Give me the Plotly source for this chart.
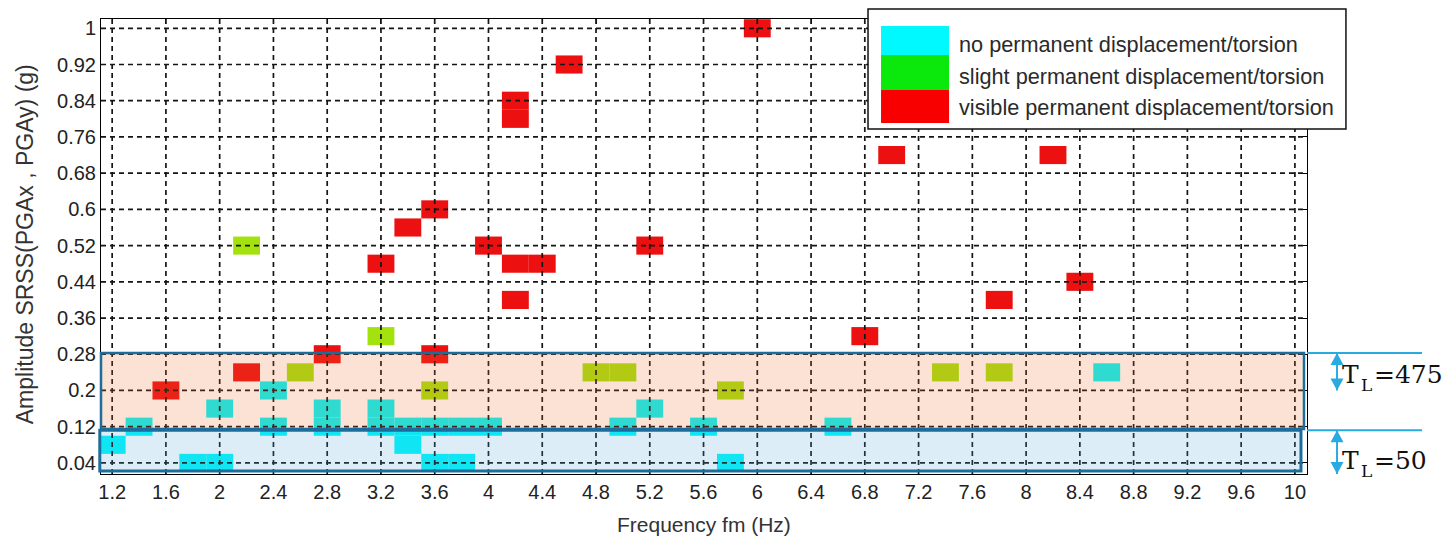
import plotly.graph_objects as go

# Size of one test cell: frequency step (Hz) and amplitude step (g)
CELL_F = 0.2
CELL_A = 0.04

# Test results: frequency fm (Hz) and amplitude SRSS(PGAx, PGAy) (g)
none_f = [1.2, 1.4, 1.8, 2.0, 2.0, 2.4, 2.4, 2.8, 2.8, 3.2, 3.2, 3.4, 3.4,
          3.6, 3.6, 3.8, 3.8, 4.0, 5.0, 5.2, 5.6, 5.8, 6.6, 8.6]
none_a = [0.08, 0.12, 0.04, 0.04, 0.16, 0.20, 0.12, 0.16, 0.12, 0.16, 0.12, 0.12, 0.08,
          0.12, 0.04, 0.12, 0.04, 0.12, 0.12, 0.16, 0.12, 0.04, 0.12, 0.24]

slight_f = [2.2, 2.6, 3.2, 3.6, 4.8, 5.0, 5.8, 7.4, 7.8]
slight_a = [0.52, 0.24, 0.32, 0.20, 0.24, 0.24, 0.20, 0.24, 0.24]

visible_f = [1.6, 2.2, 2.8, 3.2, 3.4, 3.6, 3.6, 4.0, 4.2, 4.2, 4.2, 4.2, 4.4,
             4.6, 5.2, 6.0, 6.8, 7.0, 7.8, 8.2, 8.4]
visible_a = [0.20, 0.24, 0.28, 0.48, 0.56, 0.60, 0.28, 0.52, 0.84, 0.80, 0.48, 0.40, 0.48,
             0.92, 0.52, 1.00, 0.32, 0.72, 0.40, 0.72, 0.44]

# Axis ticks
x_ticks = [1.2, 1.6, 2.0, 2.4, 2.8, 3.2, 3.6, 4.0, 4.4, 4.8, 5.2, 5.6, 6.0,
           6.4, 6.8, 7.2, 7.6, 8.0, 8.4, 8.8, 9.2, 9.6, 10.0]
x_tick_labels = ["1.2", "1.6", "2", "2.4", "2.8", "3.2", "3.6", "4", "4.4", "4.8", "5.2", "5.6", "6",
                 "6.4", "6.8", "7.2", "7.6", "8", "8.4", "8.8", "9.2", "9.6", "10"]
y_ticks = [0.04, 0.12, 0.2, 0.28, 0.36, 0.44, 0.52, 0.6, 0.68, 0.76, 0.84, 0.92, 1.0]
y_tick_labels = ["0.04", "0.12", "0.2", "0.28", "0.36", "0.44", "0.52", "0.6", "0.68",
                 "0.76", "0.84", "0.92", "1"]

# Amplitude bands of the return periods (T_L in years)
band_475 = (0.115, 0.283)
band_50 = (0.022, 0.112)
return_periods = ["475", "50"]

categories = ["no permanent displacement/torsion",
              "slight permanent displacement/torsion",
              "visible permanent displacement/torsion"]
cell_colors = ["#00f5fa", "#a4e20e", "#ec1010"]
legend_colors = ["#00f8ff", "#0be80b", "#f80000"]

X_RANGE = [1.117, 10.09]
Y_RANGE = [0.0155, 1.0205]

fig = go.Figure()

for name, fs, amps, col in zip(categories,
                               [none_f, slight_f, visible_f],
                               [none_a, slight_a, visible_a],
                               cell_colors):
    fig.add_trace(go.Bar(
        x=fs,
        y=[CELL_A] * len(fs),
        base=[a - CELL_A / 2 for a in amps],
        width=CELL_F,
        marker=dict(color=col, line=dict(width=0)),
        name=name,
        showlegend=False,
    ))

shapes = []
grid_style = dict(color="#151515", width=1.7, dash="5px,4px")
for t in x_ticks:
    shapes.append(dict(type="line", xref="x", yref="y domain", x0=t, x1=t, y0=0, y1=1,
                       line=grid_style, layer="above"))
for t in y_ticks:
    shapes.append(dict(type="line", xref="x domain", yref="y", x0=0, x1=1, y0=t, y1=t,
                       line=grid_style, layer="above"))

# translucent band overlays
shapes.append(dict(type="rect", xref="x domain", yref="y", x0=0, x1=0.9975,
                   y0=band_475[0], y1=band_475[1], fillcolor="rgba(235,110,45,0.2)",
                   line=dict(width=0), layer="above"))
shapes.append(dict(type="rect", xref="x domain", yref="y", x0=-0.001, x1=0.995,
                   y0=band_50[0], y1=band_50[1], fillcolor="rgba(80,165,215,0.2)",
                   line=dict(width=0), layer="above"))
shapes.append(dict(type="rect", xref="x domain", yref="y", x0=0, x1=0.9975,
                   y0=band_475[0], y1=band_475[1], fillcolor="rgba(0,0,0,0)",
                   line=dict(color="#1d6d9c", width=2.5), layer="above"))
shapes.append(dict(type="rect", xref="x domain", yref="y", x0=-0.001, x1=0.995,
                   y0=band_50[0], y1=band_50[1], fillcolor="rgba(0,0,0,0)",
                   line=dict(color="#1d6d9c", width=3), layer="above"))

# band limit markers on the right
ARROW_BLUE = "#29abe2"
for lim in (band_475[1], band_50[1]):
    shapes.append(dict(type="line", xref="paper", yref="y", x0=1.0, x1=1.0954, y0=lim, y1=lim,
                       line=dict(color=ARROW_BLUE, width=2), layer="above"))

# double arrows spanning each band (shaft + two pixel-sized heads)
ARROW_X = 1.0249
HEAD_UP = "M 0 0 L -6.5 -12 L 6.5 -12 Z"
HEAD_DOWN = "M 0 0 L -6.5 12 L 6.5 12 Z"
for top, bottom in ((band_475[1], 0.2), (band_50[1], Y_RANGE[0])):
    shapes.append(dict(type="line", xref="paper", yref="y", x0=ARROW_X, x1=ARROW_X,
                       y0=top, y1=bottom, line=dict(color=ARROW_BLUE, width=2), layer="above"))
    for anchor, head in ((top, HEAD_UP), (bottom, HEAD_DOWN)):
        shapes.append(dict(type="path", xref="paper", yref="y",
                           xsizemode="pixel", ysizemode="pixel",
                           xanchor=ARROW_X, yanchor=anchor, path=head,
                           fillcolor=ARROW_BLUE, line=dict(width=0), layer="above"))

# legend box
shapes.append(dict(type="rect", xref="paper", yref="paper", x0=0.636, x1=1.0323, y0=0.7582, y1=1.022,
                   fillcolor="white", line=dict(color="#111", width=1.5), layer="above"))
swatch_y = [(0.9209, 0.9846), (0.8440, 0.9209), (0.7714, 0.8440)]
for (y0, y1), col in zip(swatch_y, legend_colors):
    shapes.append(dict(type="rect", xref="paper", yref="paper", x0=0.6468, x1=0.7032, y0=y0, y1=y1,
                       fillcolor=col, line=dict(width=0), layer="above"))

annotations = []
for name, yy in zip(categories, [0.945, 0.8747, 0.8044]):
    annotations.append(dict(text=name, xref="paper", yref="paper", x=0.7098, y=yy,
                            xanchor="left", yanchor="middle", showarrow=False,
                            font=dict(family="Liberation Sans, Arial", size=21.7, color="#2a2a2a")))

# "T_L=..." labels, built from three pieces so the subscript sits low and small
LABEL_X = 1.0276
big = dict(family="DejaVu Serif", size=25, color="#111")
small = dict(family="DejaVu Serif", size=17, color="#111")
for period, y_lab in zip(return_periods, (0.226, 0.035)):
    common = dict(xref="paper", yref="y", x=LABEL_X, y=y_lab, xanchor="left",
                  yanchor="bottom", showarrow=False)
    annotations.append(dict(text="T", xshift=0, yshift=-12, font=big, **common))
    annotations.append(dict(text="L", xshift=19, yshift=-18, font=small, **common))
    annotations.append(dict(text="=" + period, xshift=32, yshift=-12, font=big, **common))

# axis titles
annotations.append(dict(text="Frequency fm (Hz)", xref="paper", yref="paper", x=0.5, y=-0.11,
                        xanchor="center", yanchor="middle", showarrow=False,
                        font=dict(family="Liberation Sans, Arial", size=21, color="#333")))
annotations.append(dict(text="Amplitude SRSS(PGAx , PGAy) (g)", xref="paper", yref="paper",
                        x=-0.063, y=0.505, xanchor="center", yanchor="middle", textangle=-90,
                        showarrow=False,
                        font=dict(family="Liberation Sans, Arial", size=23, color="#333")))

axis_common = dict(ticks="inside", ticklen=5, tickwidth=1, tickcolor="black",
                   showline=True, linecolor="black", linewidth=1, mirror="ticks",
                   showgrid=False, zeroline=False,
                   tickfont=dict(family="Liberation Sans, Arial", size=20, color="#222"))

fig.update_layout(
    width=1449, height=540,
    margin=dict(l=101, r=142, t=19, b=66),
    paper_bgcolor="white", plot_bgcolor="white",
    barmode="overlay",
    xaxis=dict(range=X_RANGE, tickvals=x_ticks, ticktext=x_tick_labels, **axis_common),
    yaxis=dict(range=Y_RANGE, tickvals=y_ticks, ticktext=y_tick_labels, **axis_common),
    shapes=shapes,
    annotations=annotations,
    showlegend=False,
)

fig.write_html("out.html")
